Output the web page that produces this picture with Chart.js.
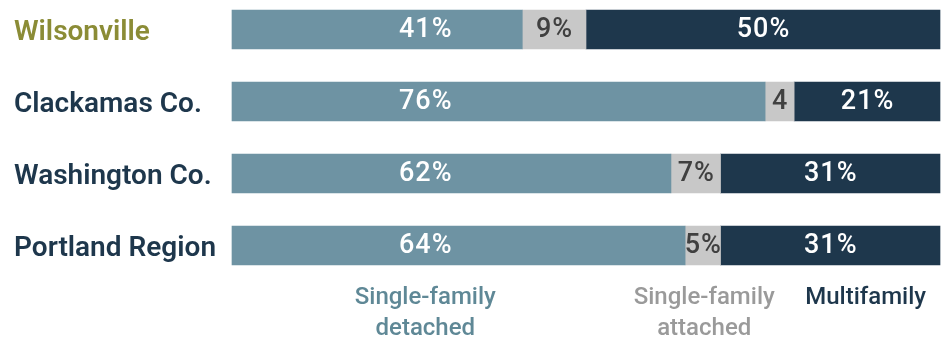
<!DOCTYPE html>
<html>
<head>
<meta charset="utf-8">
<script src="https://cdn.jsdelivr.net/npm/chart.js@4"></script>
<style>
html,body{margin:0;padding:0;background:#fff;}
#wrap{width:946px;height:339px;position:relative;}
</style>
</head>
<body>
<div id="wrap"><canvas id="c" width="946" height="339"></canvas></div>
<script>
const categories = ['Wilsonville', 'Clackamas Co.', 'Washington Co.', 'Portland Region'];
const detached = [41, 75.3, 62, 64];
const attached = [9, 4.1, 7, 5];
const multifamily = [50, 20.6, 31, 31];
const detachedLabels = ['41%', '76%', '62%', '64%'];
const attachedLabels = ['9%', '4', '7%', '5%'];
const multifamilyLabels = ['50%', '21%', '31%', '31%'];
const seriesNames = [['Single-family', 'detached'], ['Single-family', 'attached'], ['Multifamily']];

const colors = ['#6e93a3', '#c8c8c8', '#1e374c'];
const labelColors = ['#ffffff', '#404040', '#ffffff'];
const legendColors = ['#5f8896', '#9a9a9a', '#1e374c'];
const FONT = 'Roboto, "Liberation Sans", sans-serif';

const barLabels = {
  id: 'barLabels',
  afterDatasetsDraw(chart) {
    const ctx = chart.ctx;
    const xs = chart.scales.x;
    const texts = [detachedLabels, attachedLabels, multifamilyLabels];
    ctx.save();
    ctx.font = '500 27px ' + FONT;
    ctx.letterSpacing = '1px';
    ctx.textAlign = 'center';
    ctx.textBaseline = 'middle';
    chart.data.datasets.forEach((ds, i) => {
      const meta = chart.getDatasetMeta(i);
      meta.data.forEach((el, j) => {
        let cx = (el.x + el.base) / 2;
        if (i === 0) cx = xs.getPixelForValue(27.3);
        ctx.fillStyle = labelColors[i];
        ctx.fillText(texts[i][j], cx + 0.5, el.y + 1);
      });
    });
    ctx.restore();
  }
};

const bottomLegend = {
  id: 'bottomLegend',
  afterDraw(chart) {
    const ctx = chart.ctx;
    const xs = chart.scales.x;
    const centers = [xs.getPixelForValue(27.3), xs.getPixelForValue(66.7), xs.getPixelForValue(89.5)];
    ctx.save();
    ctx.font = '500 24px ' + FONT;
    ctx.textAlign = 'center';
    ctx.textBaseline = 'middle';
    seriesNames.forEach((lines, i) => {
      ctx.fillStyle = legendColors[i];
      lines.forEach((t, k) => {
        ctx.fillText(t, centers[i], 298 + k * 31);
      });
    });
    ctx.restore();
  }
};

new Chart(document.getElementById('c'), {
  type: 'bar',
  data: {
    labels: categories,
    datasets: [
      { label: 'Single-family detached', data: detached, backgroundColor: colors[0] },
      { label: 'Single-family attached', data: attached, backgroundColor: colors[1] },
      { label: 'Multifamily', data: multifamily, backgroundColor: colors[2] }
    ]
  },
  options: {
    indexAxis: 'y',
    responsive: false,
    animation: false,
    events: [],
    layout: { padding: { left: 14, right: 6, top: 29.5, bottom: 93.5 } },
    datasets: { bar: { barThickness: 39, borderWidth: 0, clip: false } },
    scales: {
      x: { stacked: true, min: 0, max: 100, display: false },
      y: {
        stacked: true,
        offset: false,
        grid: { display: false },
        border: { display: false },
        afterFit(scale) { scale.width = 218; },
        ticks: {
          crossAlign: 'far',
          padding: 0,
          labelOffset: 3,
          font: { family: FONT, size: 28, weight: '600' },
          color: (c) => c.index === 0 ? '#8b8c36' : '#1e374c'
        }
      }
    },
    plugins: { legend: { display: false }, tooltip: { enabled: false } }
  },
  plugins: [barLabels, bottomLegend]
});
</script>
</body>
</html>
